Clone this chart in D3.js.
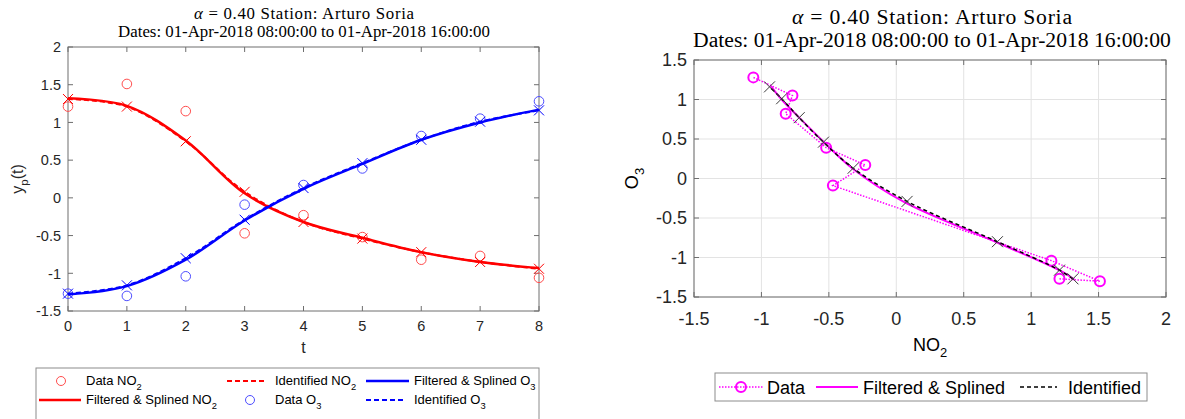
<!DOCTYPE html>
<html>
<head>
<meta charset="utf-8">
<script src="https://cdn.jsdelivr.net/npm/d3@7"></script>
<style>
  html, body { margin: 0; padding: 0; background: #fff; }
  svg { display: block; }
  .tick-label { font-family: "Liberation Sans", Arial, sans-serif; fill: #262626; }
  .title { font-family: "Liberation Serif", "DejaVu Serif", serif; fill: #000; }
</style>
</head>
<body>
<svg id="chart" width="1185" height="419"></svg>
<script>
// Hourly samples, t = 0 .. 8 (01-Apr-2018 08:00 to 16:00)
const hours = [0, 1, 2, 3, 4, 5, 6, 7, 8];

// Normalised measurements
const no2Data = [1.21, 1.51, 1.15, -0.47, -0.23, -0.52, -0.82, -0.77, -1.06];
const o3Data  = [-1.27, -1.30, -1.04, -0.09, 0.17, 0.39, 0.82, 1.05, 1.28];

// Filtered & splined signals at the hourly knots
const no2Spline = [1.32, 1.22, 0.76, 0.06, -0.32, -0.53, -0.72, -0.85, -0.93];
const o3Spline  = [-1.28, -1.17, -0.82, -0.30, 0.12, 0.45, 0.77, 1.00, 1.17];

// Identified model output
const no2Ident = [1.31, 1.21, 0.75, 0.08, -0.32, -0.54, -0.72, -0.85, -0.94];
const o3Ident  = [-1.27, -1.16, -0.80, -0.29, 0.13, 0.46, 0.77, 1.01, 1.16];

// Tick values
const leftXTicks  = [0, 1, 2, 3, 4, 5, 6, 7, 8];
const leftYTicks  = [-1.5, -1, -0.5, 0, 0.5, 1, 1.5, 2];
const rightXTicks = [-1.5, -1, -0.5, 0, 0.5, 1, 1.5, 2];
const rightYTicks = [-1.5, -1, -0.5, 0, 0.5, 1, 1.5];

const titleLine2 = "Dates: 01-Apr-2018 08:00:00 to 01-Apr-2018 16:00:00";

const svg = d3.select("#chart");
const RED = "#ff0000", BLUE = "#0000ff", MAG = "#ff00ff";
const AXIS = "#6e6e6e";
const smooth = d3.curveCatmullRom.alpha(0.5);

function fmt(v) { return String(v); }

// Title in two lines, scaled so each line spans its given width
function drawTitle(cx, y1, y2, width1, width2) {
  const g = svg.append("g").attr("class", "title");
  const l1 = g.append("text").attr("x", cx).attr("y", y1).attr("text-anchor", "middle");
  l1.append("tspan").attr("font-style", "italic").text("α");
  l1.append("tspan").text(" = 0.40 Station:  Arturo Soria");
  const l2 = g.append("text").attr("x", cx).attr("y", y2).attr("text-anchor", "middle").text(titleLine2);
  l1.attr("font-size", 16); l2.attr("font-size", 16);
  const w = l2.node().getComputedTextLength();
  const fs = 16 * width2 / w;
  l1.attr("font-size", fs); l2.attr("font-size", fs);
  l1.attr("textLength", width1).attr("lengthAdjust", "spacing");
}

function subText(g, x, y, main, sub, size, anchor) {
  const t = g.append("text").attr("x", x).attr("y", y)
    .attr("font-size", size).attr("text-anchor", anchor || "start")
    .attr("class", "tick-label").style("fill", "#000");
  t.append("tspan").text(main);
  t.append("tspan").attr("dy", size * 0.35).attr("font-size", size * 0.72).text(sub);
  return t;
}

function xMark(g, x, y, r, color, w) {
  g.append("path")
    .attr("d", `M${x - r},${y - r}L${x + r},${y + r}M${x - r},${y + r}L${x + r},${y - r}`)
    .attr("stroke", color).attr("stroke-width", w).attr("fill", "none");
}

// Axes box with inward ticks on all four sides
function drawBox(g, x, y, xt, yt, tickLen, fontSize, xLabelOffset, grid) {
  const [x0, x1] = x.range(), [y0, y1] = y.range(); // y0 bottom, y1 top
  if (grid) {
    xt.forEach(v => g.append("line").attr("x1", x(v)).attr("x2", x(v)).attr("y1", y0).attr("y2", y1)
      .attr("stroke", "#e3e3e3").attr("stroke-width", 1));
    yt.forEach(v => g.append("line").attr("y1", y(v)).attr("y2", y(v)).attr("x1", x0).attr("x2", x1)
      .attr("stroke", "#e3e3e3").attr("stroke-width", 1));
  }
  xt.forEach(v => {
    g.append("line").attr("x1", x(v)).attr("x2", x(v)).attr("y1", y0).attr("y2", y0 - tickLen).attr("stroke", AXIS);
    g.append("line").attr("x1", x(v)).attr("x2", x(v)).attr("y1", y1).attr("y2", y1 + tickLen).attr("stroke", AXIS);
  });
  yt.forEach(v => {
    g.append("line").attr("y1", y(v)).attr("y2", y(v)).attr("x1", x0).attr("x2", x0 + tickLen).attr("stroke", AXIS);
    g.append("line").attr("y1", y(v)).attr("y2", y(v)).attr("x1", x1).attr("x2", x1 - tickLen).attr("stroke", AXIS);
  });
  g.append("rect").attr("x", x0).attr("y", y1).attr("width", x1 - x0).attr("height", y0 - y1)
    .attr("fill", "none").attr("stroke", AXIS).attr("stroke-width", 1);
  g.selectAll(null).data(xt).enter().append("text").attr("class", "tick-label")
    .attr("x", d => x(d)).attr("y", y0 + xLabelOffset).attr("text-anchor", "middle")
    .attr("font-size", fontSize).text(fmt);
  g.selectAll(null).data(yt).enter().append("text").attr("class", "tick-label")
    .attr("x", x0 - 7).attr("y", d => y(d) + fontSize * 0.36).attr("text-anchor", "end")
    .attr("font-size", fontSize).text(fmt);
}

// ---------------- Left panel: time series ----------------
{
  const g = svg.append("g");
  const x = d3.scaleLinear().domain([0, 8]).range([68, 539]);
  const y = d3.scaleLinear().domain([-1.5, 2]).range([311, 47]);
  drawTitle(304, 19, 37, 220, 372);
  drawBox(g, x, y, leftXTicks, leftYTicks, 5, 14.5, 20, false);

  g.append("text").attr("class", "tick-label").attr("x", x(4)).attr("y", 353)
    .attr("text-anchor", "middle").attr("font-size", 16).text("t");
  const yl = g.append("text").attr("class", "tick-label")
    .attr("transform", `translate(23,${(47 + 311) / 2}) rotate(-90)`)
    .attr("text-anchor", "middle").attr("font-size", 16);
  yl.append("tspan").text("y");
  yl.append("tspan").attr("dy", 5).attr("font-size", 11.5).text("p");
  yl.append("tspan").attr("dy", -5).text("(t)");

  const series = [
    { data: no2Data, spline: no2Spline, ident: no2Ident, color: RED, light: "#ff4d4d" },
    { data: o3Data,  spline: o3Spline,  ident: o3Ident,  color: BLUE, light: "#4d4dff" }
  ];
  series.forEach(s => {
    const line = d3.line().x((d, i) => x(hours[i])).y(d => y(d)).curve(smooth);
    g.selectAll(null).data(s.data).enter().append("circle")
      .attr("cx", (d, i) => x(hours[i])).attr("cy", d => y(d)).attr("r", 4.8)
      .attr("fill", "none").attr("stroke", s.light).attr("stroke-width", 1);
    g.append("path").attr("d", line(s.spline)).attr("fill", "none")
      .attr("stroke", s.color).attr("stroke-width", 2.5);
    g.append("path").attr("d", line(s.ident)).attr("fill", "none")
      .attr("stroke", s.color).attr("stroke-width", 2).attr("stroke-dasharray", "5,3");
    s.ident.forEach((d, i) => xMark(g, x(hours[i]), y(d), 5, s.color, 1));
  });

  // Legend
  const lg = svg.append("g");
  lg.append("rect").attr("x", 36).attr("y", 368).attr("width", 503).attr("height", 60)
    .attr("fill", "#fff").attr("stroke", "#8c8c8c").attr("stroke-width", 1);
  const r1 = 381, r2 = 400, fs = 13;
  lg.append("circle").attr("cx", 61).attr("cy", r1).attr("r", 4.5).attr("fill", "none").attr("stroke", "#ff4d4d");
  subText(lg, 86, r1 + 4, "Data NO", "2", fs);
  lg.append("line").attr("x1", 227).attr("x2", 266).attr("y1", r1).attr("y2", r1)
    .attr("stroke", RED).attr("stroke-width", 2).attr("stroke-dasharray", "5,3");
  subText(lg, 275, r1 + 4, "Identified NO", "2", fs);
  lg.append("line").attr("x1", 366).attr("x2", 409).attr("y1", r1).attr("y2", r1)
    .attr("stroke", BLUE).attr("stroke-width", 2.5);
  subText(lg, 414, r1 + 4, "Filtered & Splined O", "3", fs);

  lg.append("line").attr("x1", 39).attr("x2", 81).attr("y1", r2).attr("y2", r2)
    .attr("stroke", RED).attr("stroke-width", 2.5);
  subText(lg, 86, r2 + 4, "Filtered & Splined NO", "2", fs);
  lg.append("circle").attr("cx", 250).attr("cy", r2).attr("r", 4.5).attr("fill", "none").attr("stroke", "#4d4dff");
  subText(lg, 275, r2 + 4, "Data O", "3", fs);
  lg.append("line").attr("x1", 366).attr("x2", 405).attr("y1", r2).attr("y2", r2)
    .attr("stroke", BLUE).attr("stroke-width", 2).attr("stroke-dasharray", "5,3");
  subText(lg, 414, r2 + 4, "Identified O", "3", fs);
}

// ---------------- Right panel: phase plane ----------------
{
  const g = svg.append("g");
  const x = d3.scaleLinear().domain([-1.5, 2]).range([694, 1166]);
  const y = d3.scaleLinear().domain([-1.5, 1.5]).range([297, 60]);
  drawTitle(932, 24, 47, 280, 478);
  drawBox(g, x, y, rightXTicks, rightYTicks, 5, 18, 28, true);

  subText(g, x(0.25), 351, "NO", "2", 18, "middle");
  const yl = g.append("text").attr("class", "tick-label").style("fill", "#000")
    .attr("transform", `translate(638,${(60 + 297) / 2}) rotate(-90)`)
    .attr("text-anchor", "middle").attr("font-size", 18);
  yl.append("tspan").text("O");
  yl.append("tspan").attr("dy", 6).attr("font-size", 13).text("3");

  const pts = (a, b) => a.map((d, i) => [d, b[i]]);
  const dataPts = pts(no2Data, o3Data);
  const splinePts = pts(no2Spline, o3Spline);
  const identPts = pts(no2Ident, o3Ident);
  const straight = d3.line().x(d => x(d[0])).y(d => y(d[1]));
  const curved = d3.line().x(d => x(d[0])).y(d => y(d[1])).curve(smooth);

  g.append("path").attr("d", straight(dataPts)).attr("fill", "none")
    .attr("stroke", MAG).attr("stroke-width", 1.5).attr("stroke-dasharray", "1.5,1.5");
  g.selectAll(null).data(dataPts).enter().append("circle")
    .attr("cx", d => x(d[0])).attr("cy", d => y(d[1])).attr("r", 5)
    .attr("fill", "none").attr("stroke", MAG).attr("stroke-width", 2);
  g.append("path").attr("d", curved(splinePts)).attr("fill", "none")
    .attr("stroke", MAG).attr("stroke-width", 2);
  g.append("path").attr("d", curved(identPts)).attr("fill", "none")
    .attr("stroke", "#000").attr("stroke-width", 1.5).attr("stroke-dasharray", "4,3");
  identPts.forEach(d => xMark(g, x(d[0]), y(d[1]), 5.5, "#3a3a3a", 1));

  // Legend
  const lg = svg.append("g");
  lg.append("rect").attr("x", 715).attr("y", 373).attr("width", 432).attr("height", 28)
    .attr("fill", "#fff").attr("stroke", "#8c8c8c").attr("stroke-width", 1);
  const ry = 387, fs = 18;
  lg.append("line").attr("x1", 719).attr("x2", 764).attr("y1", ry).attr("y2", ry)
    .attr("stroke", MAG).attr("stroke-width", 1.5).attr("stroke-dasharray", "1.5,1.5");
  lg.append("circle").attr("cx", 741).attr("cy", ry).attr("r", 5)
    .attr("fill", "none").attr("stroke", MAG).attr("stroke-width", 2);
  lg.append("text").attr("class", "tick-label").style("fill", "#000").attr("x", 767).attr("y", ry + 6.5)
    .attr("font-size", fs).text("Data");
  lg.append("line").attr("x1", 816).attr("x2", 858).attr("y1", ry).attr("y2", ry)
    .attr("stroke", MAG).attr("stroke-width", 2);
  lg.append("text").attr("class", "tick-label").style("fill", "#000").attr("x", 863).attr("y", ry + 6.5)
    .attr("font-size", fs).text("Filtered & Splined");
  lg.append("line").attr("x1", 1020).attr("x2", 1057).attr("y1", ry).attr("y2", ry)
    .attr("stroke", "#000").attr("stroke-width", 1.5).attr("stroke-dasharray", "4,3");
  lg.append("text").attr("class", "tick-label").style("fill", "#000").attr("x", 1068).attr("y", ry + 6.5)
    .attr("font-size", fs).text("Identified");
}
</script>
</body>
</html>
